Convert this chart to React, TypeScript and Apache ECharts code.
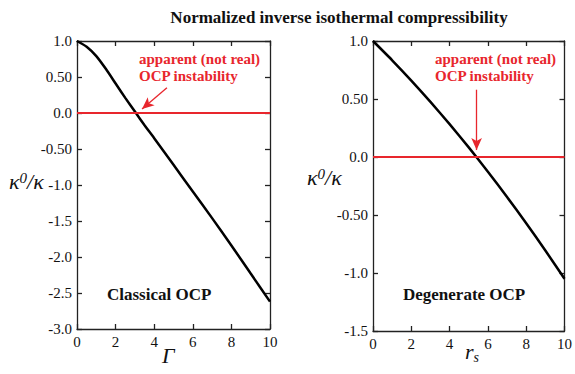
import React, { useEffect, useRef } from "react";
import * as echarts from "echarts";

// Normalized inverse isothermal compressibility kappa0/kappa
const classicalGamma = [0, 0.5, 1, 1.5, 2, 2.5, 3, 3.5, 4, 5, 6, 7, 8, 9, 10];
const classicalValues = [1.0, 0.92, 0.79, 0.61, 0.41, 0.21, 0.02, -0.17, -0.35, -0.72, -1.09, -1.46, -1.84, -2.23, -2.62];

const degenerateRs = [0, 1, 2, 3, 4, 5, 6, 7, 8, 9, 10];
const degenerateValues = [1.0, 0.834, 0.659, 0.475, 0.283, 0.083, -0.127, -0.345, -0.571, -0.806, -1.05];

const leftYLabels: Record<string, string> = {
  "1": "1.0", "0.5": "0.50", "0": "0.0", "-0.5": "-0.50", "-1": "-1.0",
  "-1.5": "-1.5", "-2": "-2.0", "-2.5": "-2.5", "-3": "-3.0",
};
const rightYLabels: Record<string, string> = {
  "1": "1.0", "0.5": "0.50", "0": "0.0", "-0.5": "-0.50", "-1": "-1.0", "-1.5": "-1.5",
};

// Arrow endpoints in data units: [start, tip]
const classicalArrow = [[4.66, 0.35], [3.37, 0.056]];
const degenerateArrow = [[5.41, 0.58], [5.41, 0.06]];

const title = "Normalized inverse isothermal compressibility";
const noteLines = ["apparent (not real)", "OCP instability"];

const FONT = "Liberation Serif";
const RED = "#e8262d";
const FRAME = "#222";

function axisBase(gridIndex: number, min: number, max: number, interval: number) {
  return {
    gridIndex,
    type: "value" as const,
    min,
    max,
    interval,
    splitLine: { show: false },
    axisLine: { show: true, onZero: false, lineStyle: { color: FRAME, width: 1.3 } },
    axisTick: { show: true, inside: true, length: 5, lineStyle: { color: FRAME, width: 1.3 } },
  };
}

export default function App() {
  const ref = useRef<HTMLDivElement>(null);

  useEffect(() => {
    if (!ref.current) return;
    const chart = echarts.init(ref.current, undefined, { renderer: "svg" });

    const tickLabel = { fontFamily: FONT, fontSize: 15, color: "#111" };

    const xBottom = (g: number) => ({
      ...axisBase(g, 0, 10, 2),
      position: "bottom",
      axisLabel: { ...tickLabel, margin: 5 },
    });
    const xTop = (g: number) => ({
      ...axisBase(g, 0, 10, 2),
      position: "top",
      axisLabel: { show: false },
    });
    const yLeft = (g: number, min: number, labels: Record<string, string>) => ({
      ...axisBase(g, min, 1, 0.5),
      position: "left",
      axisLabel: {
        ...tickLabel,
        margin: 5,
        formatter: (v: number) => labels[String(v)] ?? String(v),
      },
    });
    const yRight = (g: number, min: number) => ({
      ...axisBase(g, min, 1, 0.5),
      position: "right",
      axisLabel: { show: false },
    });

    const zeroLine = {
      silent: true,
      symbol: "none",
      label: { show: false },
      lineStyle: { color: RED, width: 2, type: "solid" },
      data: [{ yAxis: 0 }],
    };

    const arrowLine = (pts: number[][]) => ({
      silent: true,
      symbol: ["none", "arrow"],
      symbolSize: [8, 12],
      label: { show: false },
      lineStyle: { color: RED, width: 1.3, type: "solid" },
      data: [[{ coord: pts[0] }, { coord: pts[1] }]],
    });

    const kappaName = (left: number, top: number) => ({
      type: "text",
      left,
      top,
      style: {
        text: "{k|κ}{s|0}{k|/κ}",
        rich: {
          k: { fontFamily: FONT, fontStyle: "italic", fontSize: 22, fill: "#111" },
          s: { fontFamily: FONT, fontStyle: "italic", fontSize: 15, fill: "#111", verticalAlign: "top", padding: [0, 0, 7, 0] },
        },
      },
    });

    const note = (left: number) => ({
      type: "text",
      left,
      top: 50,
      style: {
        text: noteLines.join("\n"),
        fontFamily: FONT,
        fontWeight: "bold",
        fontSize: 15,
        lineHeight: 17,
        fill: RED,
      },
    });

    const plotTag = (left: number, text: string) => ({
      type: "text",
      left,
      top: 286,
      style: { text, fontFamily: FONT, fontWeight: "bold", fontSize: 17, fill: "#111" },
    });

    chart.setOption({
      animation: false,
      backgroundColor: "#fff",
      title: {
        text: title,
        left: 334,
        textAlign: "center",
        top: 4,
        textStyle: { fontFamily: FONT, fontWeight: "bold", fontSize: 17, color: "#111" },
      },
      grid: [
        { left: 77, top: 41, width: 193, height: 288 },
        { left: 373, top: 41, width: 194, height: 290 },
      ],
      xAxis: [xBottom(0), xTop(0), xBottom(1), xTop(1)],
      yAxis: [yLeft(0, -3, leftYLabels), yRight(0, -3), yLeft(1, -1.5, rightYLabels), yRight(1, -1.5)],
      series: [
        {
          type: "line",
          xAxisIndex: 0,
          yAxisIndex: 0,
          data: classicalGamma.map((g, i) => [g, classicalValues[i]]),
          smooth: 0.2,
          showSymbol: false,
          lineStyle: { color: "#000", width: 2.5 },
          markLine: zeroLine,
          z: 3,
        },
        {
          type: "line",
          xAxisIndex: 0,
          yAxisIndex: 0,
          data: [],
          markLine: arrowLine(classicalArrow),
        },
        {
          type: "line",
          xAxisIndex: 2,
          yAxisIndex: 2,
          data: degenerateRs.map((r, i) => [r, degenerateValues[i]]),
          smooth: 0.2,
          showSymbol: false,
          lineStyle: { color: "#000", width: 2.5 },
          markLine: zeroLine,
          z: 3,
        },
        {
          type: "line",
          xAxisIndex: 2,
          yAxisIndex: 2,
          data: [],
          markLine: arrowLine(degenerateArrow),
        },
      ],
      graphic: [
        kappaName(9, 170),
        kappaName(307, 166),
        {
          type: "text",
          left: 162,
          top: 344,
          style: { text: "Γ", fontFamily: FONT, fontStyle: "italic", fontSize: 22, fill: "#111" },
        },
        {
          type: "text",
          left: 465,
          top: 340,
          style: {
            text: "{r|r}{s|s}",
            rich: {
              r: { fontFamily: FONT, fontStyle: "italic", fontSize: 22, fill: "#111" },
              s: { fontFamily: FONT, fontStyle: "italic", fontSize: 14, fill: "#111", verticalAlign: "bottom", padding: [12, 0, 0, 0] },
            },
          },
        },
        note(139),
        note(435),
        plotTag(107, "Classical OCP"),
        plotTag(403, "Degenerate OCP"),
      ],
    });

    return () => chart.dispose();
  }, []);

  return (
    <div
      ref={ref}
      style={{ position: "fixed", left: 0, top: 0, width: 575, height: 374 }}
    />
  );
}
